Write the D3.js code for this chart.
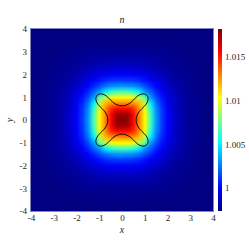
<!DOCTYPE html>
<html>
<head>
<meta charset="utf-8">
<script src="https://cdn.jsdelivr.net/npm/d3@7"></script>
<style>
body { margin: 0; background: #fff; }
text { font-family: "Liberation Serif", "DejaVu Serif", serif; font-size: 9px; fill: #262626; }
.lbl { font-style: italic; font-size: 10px; }
</style>
</head>
<body>
<div id="chart"></div>
<script>
// field n(x,y), sampled every 0.25 in the first quadrant (rows: y = 0..4, cols: x = 0..4)
// the picture is symmetric in x and y, so the other quadrants are mirrored
var gridQuad = [0, 0.25, 0.5, 0.75, 1, 1.25, 1.5, 1.75, 2, 2.25, 2.5, 2.75, 3, 3.25, 3.5, 3.75, 4];
var nQuad = [
	[1.0182, 1.0177, 1.0155, 1.0128, 1.0104, 1.0066, 1.0031, 1.0011, 0.9999, 0.9991, 0.9985, 0.9981, 0.9978, 0.99765, 0.9975, 0.99742, 0.99738],
	[1.0177, 1.0175, 1.0155, 1.0128, 1.0104, 1.0065, 1.0030, 1.0011, 0.9999, 0.99909, 0.9985, 0.9981, 0.9978, 0.99765, 0.9975, 0.99742, 0.99738],
	[1.0155, 1.0155, 1.0147, 1.0126, 1.0100, 1.0059, 1.0028, 1.0010, 0.99982, 0.99905, 0.99847, 0.99809, 0.9978, 0.99765, 0.9975, 0.99742, 0.99738],
	[1.0128, 1.0128, 1.0126, 1.0117, 1.0090, 1.0048, 1.0023, 1.0007, 0.99969, 0.99896, 0.99842, 0.99808, 0.99779, 0.99765, 0.9975, 0.99742, 0.99738],
	[1.0104, 1.0104, 1.0100, 1.0090, 1.0071, 1.0031, 1.0015, 1.0003, 0.99947, 0.99883, 0.99834, 0.99805, 0.99778, 0.99763, 0.99749, 0.99741, 0.99738],
	[1.0066, 1.0065, 1.0059, 1.0048, 1.0031, 1.0019, 1.0007, 0.99984, 0.99917, 0.99863, 0.99823, 0.998, 0.99776, 0.99761, 0.99748, 0.99741, 0.99737],
	[1.0031, 1.0030, 1.0028, 1.0023, 1.0015, 1.0007, 1.0000, 0.99941, 0.99887, 0.99843, 0.9981, 0.99793, 0.99773, 0.99759, 0.99747, 0.9974, 0.99737],
	[1.0011, 1.0011, 1.0010, 1.0007, 1.0003, 0.99984, 0.99941, 0.99896, 0.99854, 0.99823, 0.99796, 0.99784, 0.99769, 0.99755, 0.99746, 0.9974, 0.99736],
	[0.9999, 0.9999, 0.99982, 0.99969, 0.99947, 0.99917, 0.99887, 0.99854, 0.99828, 0.99803, 0.9978, 0.99776, 0.99764, 0.99751, 0.99743, 0.99739, 0.99736],
	[0.9991, 0.99909, 0.99905, 0.99896, 0.99883, 0.99863, 0.99843, 0.99823, 0.99803, 0.99784, 0.99772, 0.99769, 0.99758, 0.99747, 0.99742, 0.99738, 0.99735],
	[0.9985, 0.9985, 0.99847, 0.99842, 0.99834, 0.99823, 0.9981, 0.99796, 0.9978, 0.99772, 0.99762, 0.99761, 0.9975, 0.99744, 0.9974, 0.99737, 0.99735],
	[0.9981, 0.9981, 0.99809, 0.99808, 0.99805, 0.998, 0.99793, 0.99784, 0.99776, 0.99769, 0.99761, 0.99751, 0.99746, 0.99741, 0.99738, 0.99736, 0.99734],
	[0.9978, 0.9978, 0.9978, 0.99779, 0.99778, 0.99776, 0.99773, 0.99769, 0.99764, 0.99758, 0.9975, 0.99746, 0.99741, 0.99739, 0.99736, 0.99735, 0.99733],
	[0.99765, 0.99765, 0.99765, 0.99765, 0.99763, 0.99761, 0.99759, 0.99755, 0.99751, 0.99747, 0.99744, 0.99741, 0.99739, 0.99737, 0.99734, 0.99733, 0.99732],
	[0.9975, 0.9975, 0.9975, 0.9975, 0.99749, 0.99748, 0.99747, 0.99746, 0.99743, 0.99742, 0.9974, 0.99738, 0.99736, 0.99734, 0.99733, 0.99732, 0.9973],
	[0.99742, 0.99742, 0.99742, 0.99742, 0.99741, 0.99741, 0.9974, 0.9974, 0.99739, 0.99738, 0.99737, 0.99736, 0.99735, 0.99733, 0.99732, 0.9973, 0.99729],
	[0.99738, 0.99738, 0.99738, 0.99738, 0.99738, 0.99737, 0.99737, 0.99736, 0.99736, 0.99735, 0.99735, 0.99734, 0.99733, 0.99732, 0.9973, 0.99729, 0.99728]
];

// black contour line (x, y)
var contourX = [0.62, 0.66, 0.78, 0.96, 1.10, 1.15, 1.12, 1.05, 0.92, 0.76, 0.58, 0.40, 0.20,
	0, -0.20, -0.40, -0.58, -0.76, -0.92, -1.05, -1.12, -1.15, -1.10, -0.96, -0.78, -0.66,
	-0.62, -0.66, -0.78, -0.96, -1.10, -1.15, -1.12, -1.05, -0.92, -0.76, -0.58, -0.40, -0.20,
	0, 0.20, 0.40, 0.58, 0.76, 0.92, 1.05, 1.12, 1.15, 1.10, 0.96, 0.78, 0.66];
var contourY = [0, 0.20, 0.40, 0.58, 0.76, 0.92, 1.05, 1.12, 1.15, 1.10, 0.96, 0.78, 0.66,
	0.62, 0.66, 0.78, 0.96, 1.10, 1.15, 1.12, 1.05, 0.92, 0.76, 0.58, 0.40, 0.20,
	0, -0.20, -0.40, -0.58, -0.76, -0.92, -1.05, -1.12, -1.15, -1.10, -0.96, -0.78, -0.66,
	-0.62, -0.66, -0.78, -0.96, -1.10, -1.15, -1.12, -1.05, -0.92, -0.76, -0.58, -0.40, -0.20];

var xTicks = [-4, -3, -2, -1, 0, 1, 2, 3, 4],
	yTicks = [-4, -3, -2, -1, 0, 1, 2, 3, 4];
var cbTicks = [1, 1.005, 1.01, 1.015],
	cbTickLabels = ['1', '1.005', '1.01', '1.015'];
var nMin = 0.99737, nMax = 1.0182;

// layout
var svgWidth = 249, svgHeight = 249;
var margin = {top: 29, left: 31};
var width = 182, height = 182;
var cbX = 218, cbW = 4;
var serif = '"Liberation Serif", "DejaVu Serif", serif';

var svg = d3.select('#chart').append('svg')
	.attr('width', svgWidth)
	.attr('height', svgHeight);

var xScale = d3.scaleLinear().domain([-4, 4]).range([0, width]),
	yScale = d3.scaleLinear().domain([-4, 4]).range([height, 0]);

// jet colour map
var jetStops = [0, 0.125, 0.375, 0.625, 0.875, 1],
	jetColors = ['#000080', '#0000ff', '#00ffff', '#ffff00', '#ff0000', '#800000'];
var jet = d3.scaleLinear().domain(jetStops).range(jetColors).clamp(true);
var tScale = d3.scaleLinear().domain([nMin, nMax]).range([0, 1]).clamp(true);

var chartGroup = svg.append('g')
	.attr('transform', `translate(${margin.left},${margin.top})`);

// full grid from the quadrant
var nFull = gridQuad.length * 2 - 1;
var small = document.createElement('canvas');
small.width = nFull; small.height = nFull;
var sctx = small.getContext('2d');
var img = sctx.createImageData(nFull, nFull);
for (var r = 0; r < nFull; r++) {
	for (var c = 0; c < nFull; c++) {
		var j = Math.abs(gridQuad.length - 1 - r),
			i = Math.abs(c - (gridQuad.length - 1));
		var col = d3.rgb(jet(tScale(nQuad[j][i])));
		var k = (r * nFull + c) * 4;
		img.data[k] = col.r; img.data[k + 1] = col.g; img.data[k + 2] = col.b; img.data[k + 3] = 255;
	}
}
sctx.putImageData(img, 0, 0);

var half = (gridQuad[1] - gridQuad[0]) / 2;
var big = document.createElement('canvas');
big.width = width; big.height = height;
var bctx = big.getContext('2d');
bctx.imageSmoothingEnabled = true;
bctx.drawImage(small, xScale(-4 - half), yScale(4 + half),
	xScale(4 + half) - xScale(-4 - half), yScale(-4 - half) - yScale(4 + half));

chartGroup.append('image')
	.attr('x', 0).attr('y', 0)
	.attr('width', width).attr('height', height)
	.attr('preserveAspectRatio', 'none')
	.attr('href', big.toDataURL());

// plot edge
chartGroup.append('rect')
	.attr('x', -0.5).attr('y', -0.5)
	.attr('width', width + 1).attr('height', height + 1)
	.attr('fill', 'none')
	.attr('stroke', '#8484c4')
	.attr('stroke-width', 1);

// contour
var contourPts = contourX.map((x, i) => [x, contourY[i]]);
chartGroup.append('path')
	.datum(contourPts)
	.attr('d', d3.line()
		.x(d => xScale(d[0]))
		.y(d => yScale(d[1]))
		.curve(d3.curveCatmullRomClosed.alpha(0.5)))
	.attr('fill', 'none')
	.attr('stroke', '#000')
	.attr('stroke-width', 0.9);

// axes
var xAxis = chartGroup.append('g')
	.attr('transform', `translate(0,${height})`)
	.call(d3.axisBottom(xScale).tickValues(xTicks).tickSize(0).tickPadding(4).tickFormat(d => String(d)));
var yAxis = chartGroup.append('g')
	.call(d3.axisLeft(yScale).tickValues(yTicks).tickSize(0).tickPadding(4).tickFormat(d => String(d)));
xAxis.attr('font-family', serif).attr('font-size', 9);
yAxis.attr('font-family', serif).attr('font-size', 9);
svg.selectAll('.domain').remove();
svg.selectAll('.tick text').attr('fill', '#262626');

// labels
svg.append('text').attr('class', 'lbl').attr('x', margin.left + width / 2).attr('y', 233)
	.attr('text-anchor', 'middle').text('x');
svg.append('text').attr('class', 'lbl')
	.attr('transform', `translate(13,${margin.top + height / 2})rotate(-90)`)
	.attr('text-anchor', 'middle').text('y');
svg.append('text').attr('class', 'lbl').attr('x', margin.left + width / 2).attr('y', 23)
	.attr('text-anchor', 'middle').text('n');

// colorbar
var cbScale = d3.scaleLinear().domain([nMin, nMax]).range([height, 0]);
var grad = svg.append('defs').append('linearGradient')
	.attr('id', 'jetgrad')
	.attr('x1', 0).attr('y1', 1).attr('x2', 0).attr('y2', 0);
grad.selectAll('stop')
	.data(jetStops)
	.enter()
	.append('stop')
	.attr('offset', d => d)
	.attr('stop-color', (d, i) => jetColors[i]);

var cbGroup = svg.append('g')
	.attr('transform', `translate(${cbX},${margin.top})`);
cbGroup.append('rect')
	.attr('width', cbW).attr('height', height)
	.attr('fill', 'url(#jetgrad)');
var cbAxis = cbGroup.append('g')
	.attr('transform', `translate(${cbW},0)`)
	.call(d3.axisRight(cbScale).tickValues(cbTicks).tickSize(0).tickPadding(3)
		.tickFormat((d, i) => cbTickLabels[i]));
cbAxis.attr('font-family', serif).attr('font-size', 9);
cbGroup.selectAll('.domain').remove();
cbGroup.selectAll('.tick text').attr('fill', '#262626');
</script>
</body>
</html>
